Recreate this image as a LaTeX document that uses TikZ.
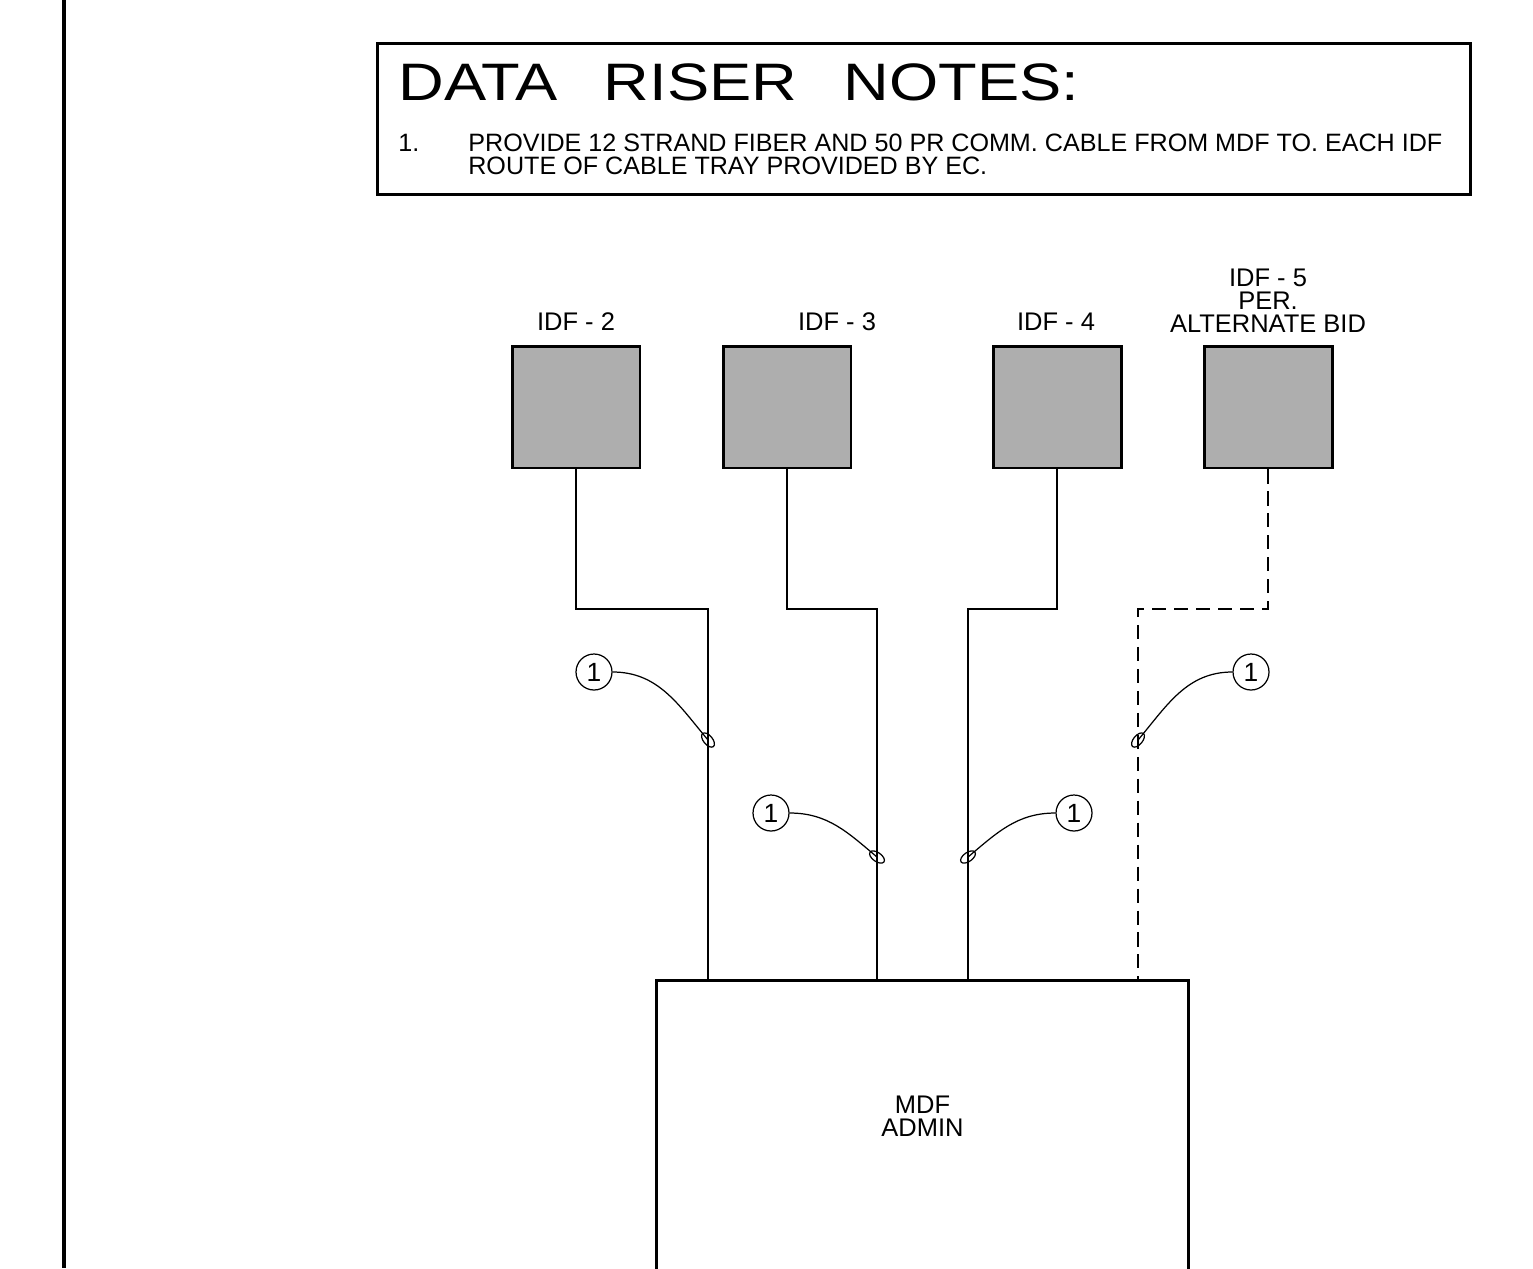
\documentclass[tikz,border=0pt]{standalone}
\usepackage{fontspec}
\setmainfont{Liberation Sans}
\usetikzlibrary{shapes.geometric, positioning, calc}
\definecolor{cIdf}{RGB}{174,174,174}
\tikzset{
	idfbox/.style  ={rectangle, draw=black, line width=1.7pt, fill=cIdf, minimum width=2.56cm, minimum height=2.44cm, inner sep=0pt},
	mdfbox/.style  ={rectangle, draw=black, line width=1.7pt, minimum width=10.66cm, minimum height=8cm, inner sep=0pt},
	notebox/.style ={rectangle, draw=black, line width=1.7pt, minimum width=21.86cm, minimum height=3.02cm, inner sep=0pt},
	lbl/.style     ={font=\fontsize{14.5}{13}\selectfont, align=center, inner sep=0pt},
	tagcirc/.style ={circle, draw=black, line width=0.7pt, minimum size=0.72cm, inner sep=0pt, font=\fontsize{15}{15}\selectfont},
	tie/.style     ={ellipse, draw=black, line width=0.7pt, minimum width=0.34cm, minimum height=0.18cm, inner sep=0pt},
	cable/.style   ={line width=0.85pt},
	altcable/.style={cable, dash pattern=on 8pt off 4.5pt},
	leader/.style  ={line width=0.7pt},
}
\begin{document}
\begin{tikzpicture}[x=0.02cm, y=-0.02cm]
	\clip (0,0) rectangle (1533,1268);
	% sheet border
	\draw[line width=2.3pt] (64,0) -- (64,1268);
	% notes block
	\node[notebox, anchor=north west] (notes) at (376,42) {};
	\node[anchor=base west, inner sep=0pt, font=\fontsize{30}{30}\selectfont] (title) at (398,100) {\scalebox{1.2}[1]{DATA\hskip 22pt RISER\hskip 22pt NOTES:}};
	\node[anchor=base west, inner sep=0pt, font=\fontsize{14.3}{13}\selectfont] (num1) at (398,151) {1.};
	\node[anchor=base west, inner sep=0pt, font=\fontsize{14.3}{13}\selectfont] (note1) at (468,151) {PROVIDE 12 STRAND FIBER AND 50 PR COMM. CABLE FROM MDF TO. EACH IDF};
	\node[anchor=base west, inner sep=0pt, font=\fontsize{14.3}{13}\selectfont] (note2) at (468,174) {ROUTE OF CABLE TRAY PROVIDED BY EC.};
	% closets
	\node[idfbox] (idf2) at (576,407) {};
	\node[idfbox] (idf3) at (787,407) {};
	\node[idfbox] (idf4) at (1057,407) {};
	\node[idfbox] (idf5) at (1268,407) {};
	\node[lbl, anchor=base] (lbl2) at (576,330) {IDF - 2};
	\node[lbl, anchor=base] (lbl3) at (837,330) {IDF - 3};
	\node[lbl, anchor=base] (lbl4) at (1056,330) {IDF - 4};
	\node[lbl, anchor=base] (lbl5) at (1268,332) {IDF - 5\\PER.\\ALTERNATE BID};
	\node[mdfbox, anchor=north] (mdf) at (922.5,979) {};
	\node[lbl, anchor=base] (mdflbl) at (922.5,1136) {MDF\\ADMIN};
	% riser cables
	\coordinate (b2) at (708,609);
	\coordinate (b3) at (877,609);
	\coordinate (b4) at (968,609);
	\coordinate (b5) at (1138,609);
	\draw[cable] (idf2.south) |- (b2) -- (b2 |- mdf.north);
	\draw[cable] (idf3.south) |- (b3) -- (b3 |- mdf.north);
	\draw[cable] (idf4.south) |- (b4) -- (b4 |- mdf.north);
	\draw[altcable] (idf5.south) |- (b5) -- (b5 |- mdf.north);
	% note tags
	\node[tie, rotate=-50] (t1) at (708,740) {};
	\node[tie, rotate=-35] (t2) at (877,857) {};
	\node[tie, rotate=35] (t3) at (968,857) {};
	\node[tie, rotate=50] (t4) at (1138,740) {};
	\node[tagcirc] (c1) at (594,672) {1};
	\node[tagcirc] (c2) at (771,813) {1};
	\node[tagcirc] (c3) at (1074,813) {1};
	\node[tagcirc] (c4) at (1251,672) {1};
	\draw[leader] (c1.east) to[out=0, in=130] (t1.center);
	\draw[leader] (c2.east) to[out=0, in=140] (t2.center);
	\draw[leader] (c3.west) to[out=180, in=40] (t3.center);
	\draw[leader] (c4.west) to[out=180, in=50] (t4.center);
\end{tikzpicture}
\end{document}
